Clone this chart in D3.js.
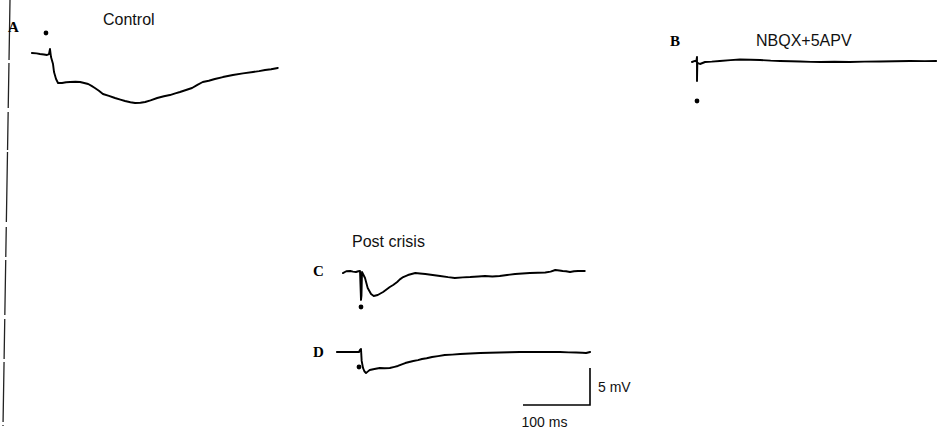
<!DOCTYPE html>
<html lang="en">
<head>
  <meta charset="UTF-8" />
  <title>Field potentials</title>
  <script src="https://d3js.org/d3.v7.min.js"></script>
  <style>
    body { margin: 0; padding: 0; background: #fff; }
    svg { display: block; }
    .trace { fill: none; stroke: #000; stroke-width: 1.9; stroke-linejoin: round; stroke-linecap: round; }
    .cond { font-family: "Liberation Sans", Arial, sans-serif; font-size: 16px; fill: #111; }
    .panel { font-family: "Liberation Serif", "DejaVu Serif", serif; font-weight: bold; font-size: 15px; fill: #000; }
    .scale { font-family: "Liberation Sans", Arial, sans-serif; font-size: 14px; fill: #111; }
  </style>
</head>
<body>
  <div id="chart"></div>

  <script>
    const width = 938;
    const height = 430;

    // traces: [time (ms from stimulus), voltage (mV from baseline)]
    const controlTrace = [
      [-27, 0], [-20, -0.05], [-15, -0.14], [-9, -0.2], [-4.5, -0.27], [-1.5, -0.14],
      [0, 0.54], [1.5, -0.54], [4.5, -1.49], [6, -2.57], [9, -3.51], [12, -4.05],
      [18, -4.05], [24, -3.95], [30, -3.92], [38, -3.88], [45, -3.92], [51, -4.05],
      [57, -4.19], [62, -4.45], [67, -4.73], [73, -5.1], [79, -5.54], [88, -5.8],
      [97, -6.08], [105, -6.3], [112, -6.49], [120, -6.65], [127, -6.76], [135, -6.72],
      [142, -6.62], [150, -6.4], [160, -6.08], [170, -5.85], [179, -5.68], [187, -5.45],
      [194, -5.27], [203, -5.0], [212, -4.73], [220, -4.3], [228, -3.92], [237, -3.75],
      [246, -3.51], [258, -3.25], [273, -2.97], [288, -2.75], [303, -2.57], [312, -2.45],
      [321, -2.30], [330, -2.2], [340, -2.03]
    ];
    const nbqxTrace = [
      [-7.5, 0], [-3, 0.14], [-1, 0.1], [0, 0.68], [0, -2.57], [0.5, -0.1], [1.5, -0.14],
      [4.5, -0.27], [12, 0], [22, 0.05], [34, 0.14], [50, 0.25], [64, 0.34], [80, 0.3],
      [94, 0.27], [110, 0.18], [124, 0.14], [140, 0.1], [154, 0.07], [170, 0.02],
      [184, 0], [205, 0.03], [228, 0], [250, 0.05], [273, 0.07], [295, 0.1],
      [318, 0.14], [340, 0.12], [357, 0.14]
    ];
    const postTraceC = [
      [-27, -0.14], [-22, 0.1], [-16, 0.14], [-12, 0.05], [-7.5, 0], [-4, 0.1], [-1.5, 0.14],
      [0, -3.78], [0.7, -3.2], [1.5, 0], [6, -0.81], [10, -2.16], [15, -2.97],
      [19, -3.24], [25, -3.11], [33, -2.70], [43, -2.03], [48, -1.75], [54, -1.35],
      [58, -1.0], [63, -0.68], [70, -0.41], [81, -0.14], [88, -0.2], [96, -0.27],
      [107, -0.4], [118, -0.54], [130, -0.7], [140, -0.81], [152, -0.72], [163, -0.68],
      [175, -0.6], [185, -0.54], [196, -0.6], [207, -0.54], [218, -0.4], [230, -0.27],
      [241, -0.2], [252, -0.14], [264, -0.1], [275, -0.07], [283, 0.05], [290, 0.27],
      [296, 0.2], [301, 0.14], [306, 0.1], [312, 0], [318, 0.1], [324, 0.14], [334, 0.14]
    ];
    const postTraceD = [
      [-36, 0], [-25, 0], [-15, 0.02], [-3, 0], [-1.5, 0.27], [0, 0.41], [1, -1.2],
      [3, -2.16], [5, -2.6], [7.5, -2.84], [10, -2.65], [13, -2.43], [20, -2.3],
      [28, -2.16], [35, -2.2], [43, -2.16], [50, -2.0], [55, -1.89], [60, -1.7],
      [66, -1.49], [72, -1.35], [78, -1.22], [85, -1.1], [91, -0.95], [98, -0.85],
      [106, -0.68], [115, -0.55], [125, -0.41], [136, -0.35], [148, -0.27], [163, -0.2],
      [178, -0.14], [192, -0.1], [207, -0.07], [222, -0.03], [237, 0], [252, 0],
      [267, 0], [282, 0.02], [297, 0], [310, -0.05], [321, -0.07], [330, -0.1],
      [336, -0.14], [342, 0]
    ];

    // stimulus markers [time, voltage]
    const stimDots = [[-6, 2.7], [0, -5.27], [0, -4.73], [-3, -2.03]];

    const panelLetters = ["A", "B", "C", "D"];
    const conditionLabels = ["Control", "NBQX+5APV", "Post crisis"];

    const scaleBarMs = 100;
    const scaleBarMv = 5;

    // pixel calibration: 100 ms -> 67 px, 5 mV -> 37 px
    const pxPerMs = 0.67;
    const pxPerMv = 7.4;

    const panels = [
      { trace: controlTrace, x0: 50, y0: 53 },
      { trace: nbqxTrace, x0: 697, y0: 62 },
      { trace: postTraceC, x0: 361, y0: 272 },
      { trace: postTraceD, x0: 361, y0: 352 }
    ];

    const svg = d3.select("#chart")
      .append("svg")
      .attr("width", width)
      .attr("height", height);

    // scanned border on the left, mostly solid with a few breaks
    svg.append("line")
      .attr("x1", 10).attr("y1", 0)
      .attr("x2", 3).attr("y2", 426)
      .attr("stroke", "#222")
      .attr("stroke-width", 1.3)
      .attr("stroke-dasharray", "60,3,45,4,38,2,70,5,30,3,55,4,40,3");

    panels.forEach((p, i) => {
      const x = d3.scaleLinear().domain([0, 100]).range([p.x0, p.x0 + 100 * pxPerMs]);
      const y = d3.scaleLinear().domain([0, 5]).range([p.y0, p.y0 - 5 * pxPerMv]);
      p.x = x; p.y = y;

      const line = d3.line()
        .x(d => x(d[0]))
        .y(d => y(d[1]));

      svg.append("path")
        .attr("class", "trace")
        .attr("d", line(p.trace));

      svg.append("circle")
        .attr("cx", x(stimDots[i][0]))
        .attr("cy", y(stimDots[i][1]))
        .attr("r", 2.4)
        .attr("fill", "#000");
    });

    // panel letters
    const letterPos = [[8, 32], [670, 46], [313, 276], [313, 357]];
    panelLetters.forEach((l, i) => {
      svg.append("text")
        .attr("class", "panel")
        .attr("x", letterPos[i][0])
        .attr("y", letterPos[i][1])
        .text(l);
    });

    // condition labels
    const condPos = [[103, 25], [756, 46], [352, 247]];
    conditionLabels.forEach((t, i) => {
      svg.append("text")
        .attr("class", "cond")
        .attr("x", condPos[i][0])
        .attr("y", condPos[i][1])
        .text(t);
    });

    // scale bar, drawn with panel D's scales
    const pd = panels[3];
    const barX = 590, barY = 405;
    const barW = pd.x(scaleBarMs) - pd.x(0);
    const barH = pd.y(0) - pd.y(scaleBarMv);
    svg.append("path")
      .attr("d", `M${barX - barW},${barY}H${barX}V${barY - barH}`)
      .attr("fill", "none")
      .attr("stroke", "#000")
      .attr("stroke-width", 1.6);

    svg.append("text")
      .attr("class", "scale")
      .attr("x", barX + 8)
      .attr("y", barY - barH / 2 + 5)
      .text(scaleBarMv + " mV");

    svg.append("text")
      .attr("class", "scale")
      .attr("x", barX - barW / 2 - 12)
      .attr("y", barY + 22)
      .attr("text-anchor", "middle")
      .text(scaleBarMs + " ms");
  </script>
</body>
</html>
